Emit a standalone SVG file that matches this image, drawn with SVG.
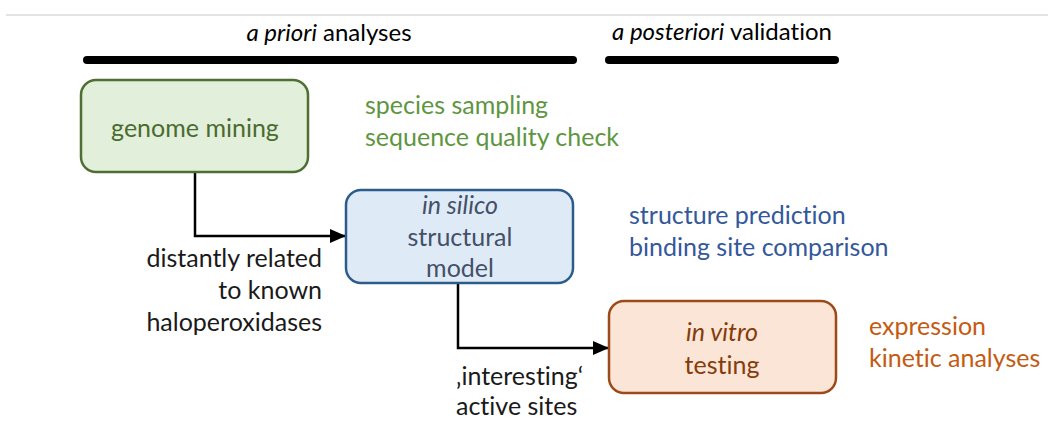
<svg xmlns="http://www.w3.org/2000/svg" width="1048" height="425" viewBox="0 0 1048 425">
<style>
text{font-family:Lato,"Open Sans","Liberation Sans",sans-serif;font-size:25px;font-variant-ligatures:none}
.hdr{font-size:24px;fill:#000}
.bar{stroke:#000;stroke-width:8;stroke-linecap:round}
.green{fill:#e2efda;stroke:#4f6e32;stroke-width:2.5}
.blue{fill:#deebf7;stroke:#2e5c8a;stroke-width:2.5}
.orange{fill:#fbe5d6;stroke:#9c4a17;stroke-width:2.5}
.conn{fill:none;stroke:#000;stroke-width:2.5}
.lbl{fill:#1a1a1a}
</style>
<defs>
<marker id="arr" markerWidth="16" markerHeight="14" refX="15" refY="7" orient="auto" markerUnits="userSpaceOnUse">
<path d="M0,0 L16,7 L0,14 Z" fill="#000"/>
</marker>
</defs>
<line x1="6" y1="15" x2="1048" y2="15" stroke="#e3e3e3" stroke-width="2"/>
<g id="header">
<text class="hdr" x="329" y="41" text-anchor="middle"><tspan font-style="italic">a priori</tspan> analyses</text>
<text class="hdr" x="722" y="40" text-anchor="middle"><tspan font-style="italic">a posteriori</tspan> validation</text>
<line class="bar" x1="87" y1="60" x2="573" y2="60"/>
<line class="bar" x1="609" y1="60" x2="835" y2="60"/>
</g>
<g id="connectors">
<path class="conn" d="M195,172 V236 H345" marker-end="url(#arr)"/>
<path class="conn" d="M458,283 V348 H608" marker-end="url(#arr)"/>
<text class="lbl" text-anchor="end"><tspan x="322" y="267">distantly related</tspan><tspan x="322" y="299">to known</tspan><tspan x="322" y="331">haloperoxidases</tspan></text>
<text class="lbl"><tspan x="456" y="385">‚interesting‘</tspan><tspan x="456" y="415">active sites</tspan></text>
</g>
<g id="genome-mining">
<rect class="green" x="81" y="80" width="227" height="92" rx="15"/>
<text x="195" y="137" text-anchor="middle" fill="#4a6b30">genome mining</text>
<text fill="#5e9640"><tspan x="365" y="114">species sampling</tspan><tspan x="365" y="146">sequence quality check</tspan></text>
</g>
<g id="in-silico">
<rect class="blue" x="346" y="190" width="227" height="93" rx="15"/>
<text text-anchor="middle" fill="#445068"><tspan x="460" y="214" font-style="italic">in silico</tspan><tspan x="460" y="246">structural</tspan><tspan x="460" y="277">model</tspan></text>
<text fill="#33589b"><tspan x="629" y="224">structure prediction</tspan><tspan x="629" y="256">binding site comparison</tspan></text>
</g>
<g id="in-vitro">
<rect class="orange" x="609" y="301" width="227" height="92" rx="15"/>
<text text-anchor="middle" fill="#843c0c"><tspan x="722" y="341" font-style="italic">in vitro</tspan><tspan x="722" y="374">testing</tspan></text>
<text fill="#c55a11"><tspan x="869" y="335">expression</tspan><tspan x="869" y="367">kinetic analyses</tspan></text>
</g>
</svg>
